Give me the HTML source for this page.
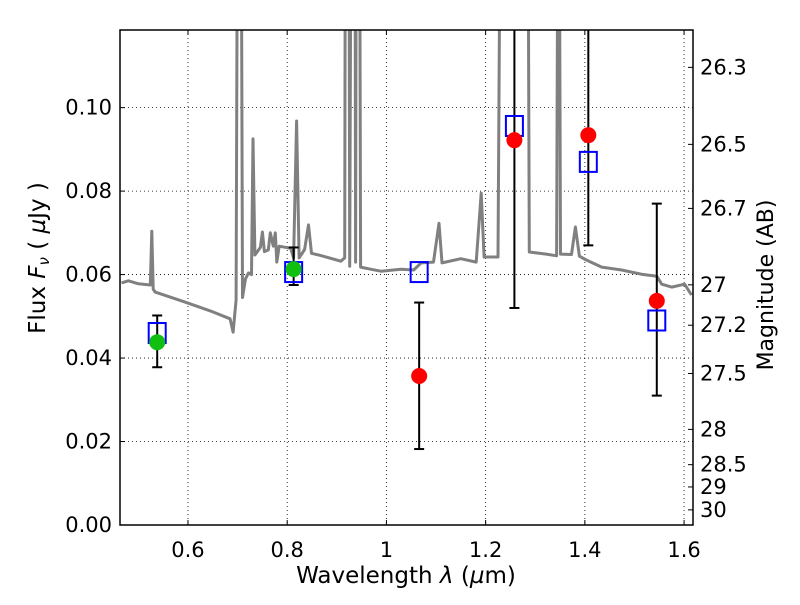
<!DOCTYPE html>
<html><head><meta charset="utf-8"><style>
body{margin:0;background:#fff}
svg text{font-family:"DejaVu Sans","Liberation Sans",sans-serif;fill:#000}
</style></head><body>
<svg id="chart" width="800" height="600" viewBox="0 0 800 600" xmlns="http://www.w3.org/2000/svg"></svg>
<script>
const xTicks=[0.6,0.8,1.0,1.2,1.4,1.6];
const xTickLabels=["0.6","0.8","1","1.2","1.4","1.6"];
const yTicks=[0,0.02,0.04,0.06,0.08,0.10];
const yTickLabels=["0.00","0.02","0.04","0.06","0.08","0.10"];
const magTicks=[26.3,26.5,26.7,27,27.2,27.5,28,28.5,29,30];
const specLam=[0.466,0.48,0.50,0.524,0.527,0.530,0.534,0.594,0.645,0.685,0.691,0.697,0.701,0.706,0.710,0.716,0.722,0.728,0.731,0.735,0.746,0.750,0.754,0.762,0.766,0.772,0.776,0.779,0.784,0.807,0.813,0.819,0.824,0.835,0.843,0.849,0.867,0.908,0.916,0.918,0.924,0.926,0.930,0.936,0.938,0.940,0.945,0.948,0.968,0.989,1.029,1.055,1.070,1.095,1.106,1.112,1.150,1.181,1.191,1.197,1.225,1.232,1.26,1.284,1.288,1.322,1.343,1.347,1.351,1.373,1.381,1.389,1.403,1.434,1.474,1.514,1.545,1.555,1.575,1.601,1.615];
const specFlux=[0.058,0.0585,0.0578,0.0575,0.0704,0.0565,0.0558,0.0534,0.0513,0.0494,0.0462,0.0539,0.2,0.2,0.0545,0.059,0.0604,0.0600,0.0925,0.0647,0.0665,0.0702,0.0655,0.0659,0.070,0.0668,0.0700,0.063,0.0668,0.0663,0.0640,0.0968,0.0640,0.0660,0.0719,0.0651,0.0646,0.0632,0.0640,0.2,0.2,0.0620,0.2,0.2,0.063,0.2,0.2,0.0618,0.0613,0.0608,0.0613,0.0611,0.0628,0.0630,0.0723,0.0628,0.0638,0.0630,0.0795,0.0642,0.0642,0.2,0.2,0.2,0.0654,0.0649,0.0645,0.2,0.0649,0.0648,0.0714,0.0644,0.0635,0.0618,0.0611,0.0601,0.0596,0.0577,0.057,0.0577,0.0551];
const greenLam=[0.538,0.813];
const greenFlux=[0.0438,0.0613];
const greenLo=[0.0378,0.0575];
const greenHi=[0.0502,0.0665];
const redLam=[1.066,1.258,1.407,1.545];
const redFlux=[0.0357,0.0922,0.0934,0.0537];
const redLo=[0.0182,0.052,0.067,0.031];
const redHi=[0.0533,0.2,0.2,0.077];
const modelLam=[0.538,0.813,1.066,1.258,1.407,1.545];
const modelFlux=[0.046,0.0606,0.0606,0.0956,0.087,0.049];

const L=120,R=693,T=30,B=525,xmin=0.463,xmax=1.618,ymin=0,ymax=0.1186;
const X=v=>L+(v-xmin)/(xmax-xmin)*(R-L);
const Y=v=>B-(v-ymin)/(ymax-ymin)*(B-T);
const NS="http://www.w3.org/2000/svg";
const svg=document.getElementById('chart');
function mk(tag,attrs,parent){const e=document.createElementNS(NS,tag);for(const k in attrs)e.setAttribute(k,attrs[k]);(parent||svg).appendChild(e);return e;}
const defs=mk('defs',{});const cp=mk('clipPath',{id:'clip'},defs);mk('rect',{x:L,y:T,width:R-L,height:B-T},cp);
const grid=mk('g',{});


xTicks.forEach((t,i)=>{const x=X(t);
 mk('line',{x1:x,x2:x,y1:T,y2:B,stroke:'#000','stroke-width':0.8,'stroke-dasharray':'1,3'},grid);
 mk('line',{x1:x,x2:x,y1:B,y2:B-5,stroke:'#000'});mk('line',{x1:x,x2:x,y1:T,y2:T+5,stroke:'#000'});
 const tx=mk('text',{x:x,y:B+32,'font-size':21,'text-anchor':'middle'});tx.textContent=xTickLabels[i];
 
 });
yTicks.forEach((t,i)=>{const y=Y(t);
 mk('line',{x1:L,x2:R,y1:y,y2:y,stroke:'#000','stroke-width':0.8,'stroke-dasharray':'1,3'},grid);
 mk('line',{x1:L,x2:L+5,y1:y,y2:y,stroke:'#000'});
 const tx=mk('text',{x:L-8,y:y+7,'font-size':21,'text-anchor':'end'});tx.textContent=yTickLabels[i];
 
 });
magTicks.forEach(m=>{const f=Math.pow(10,(23.9-m)/2.5);const y=Y(f);
 mk('line',{x1:R,x2:R-5,y1:y,y2:y,stroke:'#000'});
 const tx=mk('text',{x:R+7,y:y+7,'font-size':21});tx.textContent=String(m);
 
 });
const pd=specLam.map((l,i)=>(i?'L':'M')+X(l).toFixed(1)+','+Y(specFlux[i]).toFixed(1)).join(' ');
const sp=mk('path',{d:pd,fill:'none',stroke:'#808080','stroke-width':3,'clip-path':'url(#clip)','stroke-linejoin':'round'});


function errbar(l,lo,hi,name){const g=mk('g',{'clip-path':'url(#clip)'});
 
 
 const x=X(l);mk('line',{x1:x,x2:x,y1:Y(lo),y2:Y(hi),stroke:'#000','stroke-width':2},g);
 [lo,hi].forEach(v=>mk('line',{x1:x-5,x2:x+5,y1:Y(v),y2:Y(v),stroke:'#000','stroke-width':2},g));}
greenLam.forEach((l,i)=>errbar(l,greenLo[i],greenHi[i],'green-error-bar'));
redLam.forEach((l,i)=>errbar(l,redLo[i],redHi[i],'red-error-bar'));
modelLam.forEach((l,i)=>{const r=mk('rect',{x:X(l)-8.5,y:Y(modelFlux[i])-10,width:17,height:20,fill:'none',stroke:'#0000ff','stroke-width':2});
 
 });
greenLam.forEach((l,i)=>{const c=mk('circle',{cx:X(l),cy:Y(greenFlux[i]),r:8,fill:'#10bf10'});
 
 });
redLam.forEach((l,i)=>{const c=mk('circle',{cx:X(l),cy:Y(redFlux[i]),r:8,fill:'#ff0000'});
 
 });
const fr=mk('rect',{x:L,y:T,width:R-L,height:B-T,fill:'none',stroke:'#000','stroke-width':1.5});


const xl=mk('text',{x:406,y:583,'font-size':23,'text-anchor':'middle'});
xl.innerHTML='Wavelength  <tspan font-style="italic">λ</tspan> (<tspan font-style="italic">µ</tspan>m)';
xl.setAttribute('xml:space','preserve');


const yl=mk('text',{x:0,y:0,'font-size':23,'text-anchor':'middle',transform:'translate(45,258) rotate(-90)'});
yl.innerHTML='Flux  <tspan font-style="italic">F</tspan><tspan font-size="15" dy="4" font-style="italic">ν</tspan><tspan dy="-4">  (  </tspan><tspan font-style="italic">µ</tspan>Jy )';
yl.setAttribute('xml:space','preserve');


const rl=mk('text',{x:0,y:0,'font-size':22,'text-anchor':'middle',transform:'translate(773,285) rotate(-90)'});
rl.textContent='Magnitude (AB)';


</script>
</body></html>
